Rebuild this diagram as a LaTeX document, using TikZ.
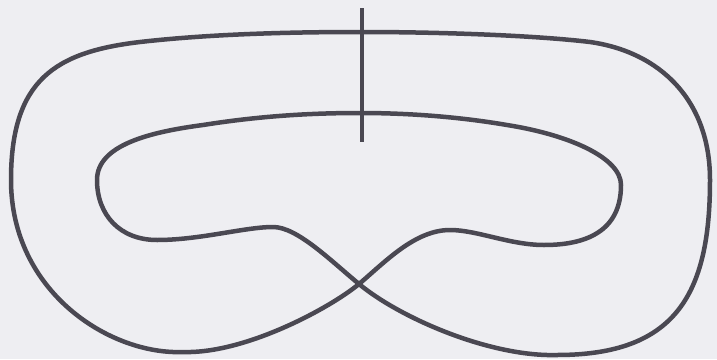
\documentclass[tikz,border=0pt]{standalone}
\begin{document}
\begin{tikzpicture}[x=1pt,y=-1pt]
\definecolor{bg}{HTML}{EEEEF2}
\definecolor{ink}{HTML}{4A4852}
\tikzset{curve/.style={draw=ink,line width=4.5pt,line join=round,line cap=round}}
\fill[bg] (0,0) rectangle (717,359);
\useasboundingbox (0,0) rectangle (717,359);
\coordinate (A) at (360,32);
\coordinate (B) at (590,42);
\coordinate (C) at (710,180);
\coordinate (D) at (557,355);
\coordinate (X) at (359,284);
\coordinate (P) at (273,227);
\coordinate (Q) at (157,240);
\coordinate (R) at (97,180);
\coordinate (S) at (203,125);
\coordinate (T) at (360,113);
\coordinate (U) at (507,125);
\coordinate (V) at (621,185);
\coordinate (W) at (544,245);
\coordinate (Y) at (450,230);
\coordinate (Z) at (183,352);
\coordinate (L) at (11,180);
\coordinate (M) at (140,42);
\draw[curve] (A) .. controls (450,32) and (540,36) .. (B)
 .. controls (660,52) and (710,100) .. (C)
 .. controls (710,295) and (675,355) .. (D)
 .. controls (490,357) and (400,318) .. (X)
 .. controls (330,260) and (297,227) .. (P)
 .. controls (245,227) and (200,240) .. (Q)
 .. controls (120,240) and (97,215) .. (R)
 .. controls (97,145) and (150,132) .. (S)
 .. controls (260,116) and (310,113) .. (T)
 .. controls (410,113) and (460,117) .. (U)
 .. controls (570,135) and (621,158) .. (V)
 .. controls (621,232) and (585,245) .. (W)
 .. controls (510,245) and (477,230) .. (Y)
 .. controls (415,230) and (385,262) .. (X)
 .. controls (330,308) and (245,354) .. (Z)
 .. controls (110,355) and (11,292) .. (L)
 .. controls (11,80) and (55,52) .. (M)
 .. controls (210,34) and (290,32) .. (A) -- cycle;
\coordinate (top) at (362,8);
\coordinate (bot) at (362,142);
\draw[curve,line cap=butt] (top) -- (bot);
\end{tikzpicture}
\end{document}
